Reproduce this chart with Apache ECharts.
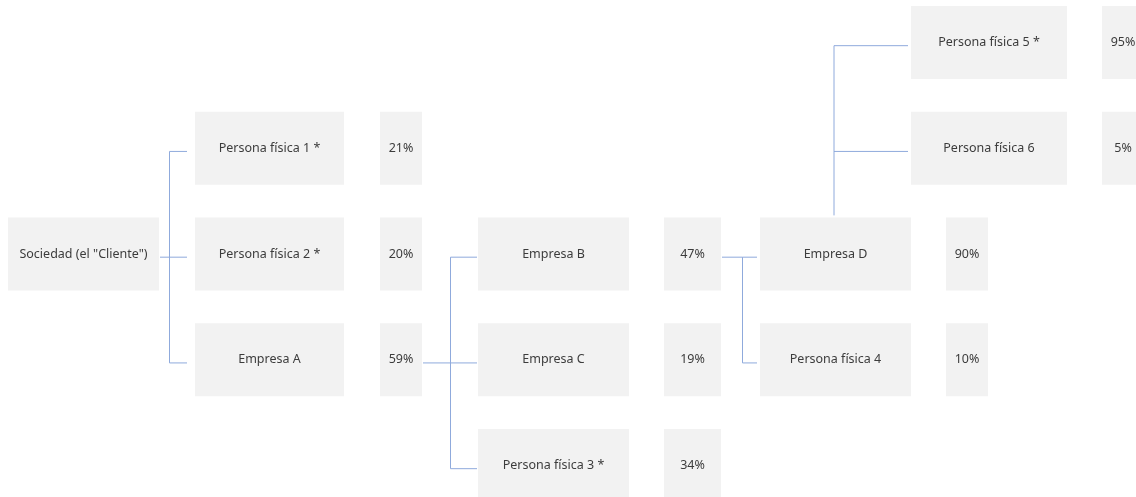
<!DOCTYPE html>
<html>
<head>
<meta charset="utf-8">
<script src="https://cdn.jsdelivr.net/npm/echarts@6/dist/echarts.min.js"></script>
<style>
html,body{margin:0;padding:0;background:#fff;}
#chart{width:1136px;height:497px;}
</style>
</head>
<body>
<div id="chart"></div>
<script>
// ---- Data ----
const nodeNames = ['Sociedad (el "Cliente")', 'Persona física 1 *', 'Persona física 2 *', 'Empresa A',
  'Empresa B', 'Empresa C', 'Persona física 3 *', 'Empresa D', 'Persona física 4',
  'Persona física 5 *', 'Persona física 6'];
const nodePct = [null, 21, 20, 59, 47, 19, 34, 90, 10, 95, 5];
const nodeCol = [0, 1, 1, 1, 2, 2, 2, 3, 3, 4, 4];
const nodeRow = [2, 1, 2, 3, 2, 3, 4, 2, 3, 0, 1];
const nodeParent = [-1, 0, 0, 0, 3, 3, 3, 4, 4, 7, 7];

// ---- Layout (styling) ----
const rowPx = 105.75;
const colBoxLeft = [8, 195, 478, 760, 911];
const colBoxW = [151, 149, 151, 151, 156];
const colPctLeft = [0, 380, 664, 946, 1102];
const colPctW = [0, 42, 57, 42, 42];
const boxH = 73 / rowPx;   // in row units
const lineDy = 0.03;
const connFrac = {0: 0.28, 3: 0.5, 4: 0.54};
const connEndGap = {0: 8, 3: 1, 4: 3, 7: 3};
const boxColor = '#F2F2F2';
const lineColor = '#8FAADC';
const textColor = '#3C3C3C';
const font = '12.5px "Noto Sans"';

// connectors built from hierarchy
const segments = [];
const parents = [...new Set(nodeParent.filter(p => p >= 0))];
parents.forEach(p => {
  const kids = nodeParent.map((q, i) => q === p ? i : -1).filter(i => i >= 0);
  const pc = nodeCol[p], pr = nodeRow[p];
  const kidRows = kids.map(k => nodeRow[k]);
  const childLeft = colBoxLeft[nodeCol[kids[0]]];
  const endX = childLeft - (connEndGap[p] || 3);
  if (Math.max(...kidRows) < pr) {
    // children above: vertical rises from parent's top
    const vx = colBoxLeft[pc] + colBoxW[pc] / 2 - 1.5;
    const top = Math.min(...kidRows) + lineDy;
    segments.push([[vx, pr - boxH / 2 - 0.02], [vx, top]]);
    kids.forEach(k => segments.push([[vx, nodeRow[k] + lineDy], [endX, nodeRow[k] + lineDy]]));
  } else {
    const edge = nodePct[p] != null ? colPctLeft[pc] + colPctW[pc] : colBoxLeft[pc] + colBoxW[pc];
    const vx = Math.round(edge + (childLeft - edge) * (connFrac[p] || 0.5)) + 0.5;
    const rows = kidRows.concat([pr]);
    segments.push([[vx, Math.min(...rows) + lineDy], [vx, Math.max(...rows) + lineDy]]);
    segments.push([[edge + 1, pr + lineDy], [vx, pr + lineDy]]);
    kids.forEach(k => segments.push([[vx, nodeRow[k] + lineDy], [endX, nodeRow[k] + lineDy]]));
  }
});

const chart = echarts.init(document.getElementById('chart'), null, {renderer: 'canvas'});

function textEl(str, x, y) {
  return {
    type: 'text',
    style: {
      text: str, x: x, y: y,
      align: 'center', verticalAlign: 'middle',
      textAlign: 'center', textVerticalAlign: 'middle',
      font: font, fill: textColor
    }
  };
}

chart.setOption({
  animation: false,
  grid: {left: 0, right: 0, top: 0, bottom: 0, containLabel: false},
  xAxis: {type: 'value', min: 0, max: 1136, show: false},
  yAxis: {type: 'value', min: -42.5 / rowPx, max: (497 - 42.5) / rowPx, inverse: true, show: false},
  series: [
    {
      type: 'lines',
      coordinateSystem: 'cartesian2d',
      polyline: true,
      silent: true,
      lineStyle: {color: lineColor, width: 1, opacity: 1},
      data: segments.map(s => ({coords: s})),
      z: 1
    },
    {
      type: 'custom',
      coordinateSystem: 'cartesian2d',
      silent: true,
      data: nodeNames.map((n, i) => [colBoxLeft[nodeCol[i]], nodeRow[i], i]),
      encode: {x: 0, y: 1},
      renderItem: function (params, api) {
        const i = api.value(2);
        const c = nodeCol[i], r = nodeRow[i];
        const p0 = api.coord([colBoxLeft[c], r - boxH / 2]);
        const p1 = api.coord([colBoxLeft[c] + colBoxW[c], r + boxH / 2]);
        const children = [
          {type: 'rect', shape: {x: p0[0], y: p0[1], width: p1[0] - p0[0], height: p1[1] - p0[1]}, style: {fill: boxColor}},
          textEl(nodeNames[i], (p0[0] + p1[0]) / 2, (p0[1] + p1[1]) / 2)
        ];
        if (nodePct[i] != null) {
          const q0 = api.coord([colPctLeft[c], r - boxH / 2]);
          const q1 = api.coord([colPctLeft[c] + colPctW[c], r + boxH / 2]);
          children.push({type: 'rect', shape: {x: q0[0], y: q0[1], width: q1[0] - q0[0], height: q1[1] - q0[1]}, style: {fill: boxColor}});
          children.push(textEl(nodePct[i] + '%', (q0[0] + q1[0]) / 2, (q0[1] + q1[1]) / 2));
        }
        return {type: 'group', children: children};
      },
      z: 2
    }
  ]
});
</script>
</body>
</html>
